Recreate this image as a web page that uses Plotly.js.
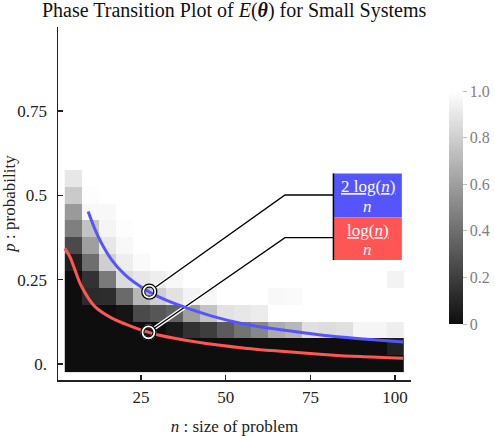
<!DOCTYPE html>
<html>
<head>
<meta charset="utf-8">
<script src="https://cdn.plot.ly/plotly-3.0.1.min.js"></script>
<style>
  html, body { margin: 0; padding: 0; background: #fff; }
  #chart { width: 495px; height: 436px; }
</style>
</head>
<body>
<div id="chart"></div>
<script>
// problem sizes (columns) and probabilities (rows) of the heatmap
const sizes = [5, 10, 15, 20, 25, 30, 35, 40, 45, 50, 55, 60, 65, 70, 75, 80, 85, 90, 95, 100];
const probs = [0, 0.05, 0.1, 0.15, 0.2, 0.25, 0.3, 0.35, 0.4, 0.45, 0.5, 0.55, 0.6, 0.65, 0.7, 0.75, 0.8, 0.85, 0.9, 0.95];

// E(theta), one row per probability (bottom row first)
const rowP000 = [0, 0, 0, 0, 0, 0, 0, 0, 0, 0, 0, 0, 0, 0, 0, 0, 0, 0, 0, 0];
const rowP005 = [0, 0, 0, 0, 0, 0, 0, 0, 0, 0, 0, 0, 0, 0, 0, 0, 0, 0, 0, 0.08];
const rowP010 = [0, 0, 0, 0, 0, 0, 0.05, 0.15, 0.2, 0.32, 0.42, 0.5, 0.65, 0.7, 0.87, 0.86, 0.87, 0.96, 0.96, 0.93];
const rowP015 = [0, 0, 0, 0.03, 0.25, 0.3, 0.35, 0.6, 0.75, 0.88, 0.9, 0.92, 1, 1, 1, 1, 1, 1, 1, 1];
const rowP020 = [0, 0.12, 0.13, 0.38, 0.7, 0.8, 0.88, 0.95, 0.97, 1, 1, 1, 0.97, 0.98, 1, 1, 1, 1, 1, 1];
const rowP025 = [0, 0.15, 0.45, 0.85, 0.9, 0.93, 0.97, 1, 1, 1, 1, 1, 1, 1, 1, 1, 1, 1, 1, 0.95];
const rowP030 = [0.07, 0.4, 0.8, 0.93, 0.98, 1, 1, 1, 1, 1, 1, 1, 1, 1, 1, 1, 1, 1, 1, 1];
const rowP035 = [0.25, 0.6, 0.9, 0.97, 1, 1, 1, 1, 1, 1, 1, 1, 1, 1, 1, 1, 1, 1, 1, 1];
const rowP040 = [0.47, 0.75, 0.96, 0.99, 1, 1, 1, 1, 1, 1, 1, 1, 1, 1, 1, 1, 1, 1, 1, 1];
const rowP045 = [0.58, 0.97, 0.97, 1, 1, 1, 1, 1, 1, 1, 1, 1, 1, 1, 1, 1, 1, 1, 1, 1];
const rowP050 = [0.78, 0.99, 1, 1, 1, 1, 1, 1, 1, 1, 1, 1, 1, 1, 1, 1, 1, 1, 1, 1];
const rowP055 = [0.9, 1, 1, 1, 1, 1, 1, 1, 1, 1, 1, 1, 1, 1, 1, 1, 1, 1, 1, 1];
const rowWhite = [1, 1, 1, 1, 1, 1, 1, 1, 1, 1, 1, 1, 1, 1, 1, 1, 1, 1, 1, 1];

// the two threshold curves
const blueN = [9.4, 12.4, 16.4, 20.3, 25.7, 30.1, 36.0, 45.9, 55.7, 63.1, 71.9, 80.8, 89.7, 102.4];
const blueP = [0.452, 0.377, 0.308, 0.264, 0.224, 0.200, 0.175, 0.142, 0.118, 0.106, 0.094, 0.083, 0.075, 0.065];
const redN = [2.5, 4.0, 5.5, 7.5, 11.4, 16.4, 22.3, 27.2, 30.1, 40.9, 55.7, 67.5, 80.8, 89.7, 102.4];
const redP = [0.343, 0.318, 0.279, 0.229, 0.170, 0.136, 0.111, 0.094, 0.086, 0.066, 0.047, 0.037, 0.027, 0.022, 0.017];

// highlighted points and their labels
const markN = [27.45, 27.2];
const markP = [0.2144, 0.094];
const markLabels = ["2 log(<i>n</i>)", "log(<i>n</i>)"];

const BLUE = "#5555ff";
const RED = "#ff5555";
const FONT = "Liberation Serif, DejaVu Serif, serif";

const xRange = [0.5, 104.7];
const yRange = [-0.0474, 0.999];
const margin = { l: 58, r: 84, t: 27, b: 56, autoexpand: false };
const plotW = 495 - margin.l - margin.r;
const plotH = 436 - margin.t - margin.b;
const pxN = plotW / (xRange[1] - xRange[0]);
const pxP = plotH / (yRange[1] - yRange[0]);

const z = [rowP000, rowP005, rowP010, rowP015, rowP020, rowP025, rowP030, rowP035,
  rowP040, rowP045, rowP050, rowP055, rowWhite, rowWhite, rowWhite, rowWhite,
  rowWhite, rowWhite, rowWhite, rowWhite];

// callout geometry: elbow and box edge (data units)
const elbowN = 67.5;
const elbowP = [0.501, 0.3745];
const boxLeft = 81.8, boxRight = 102.0;
const boxTop = [0.565, 0.435], boxBottom = [0.435, 0.308];

const calloutTraces = [];
markN.forEach((n, i) => {
  // start the leader line on the rim of the circle
  const dx = (elbowN - n) * pxN, dy = (elbowP[i] - markP[i]) * pxP;
  const len = Math.hypot(dx, dy);
  const r = 7.5;
  const sx = n + (dx / len) * r / pxN;
  const sy = markP[i] + (dy / len) * r / pxP;
  const xs = [sx, elbowN, boxLeft];
  const ys = [sy, elbowP[i], elbowP[i]];
  calloutTraces.push({ x: xs, y: ys, mode: "lines", line: { color: "#fff", width: 4 }, hoverinfo: "skip" });
  calloutTraces.push({ x: xs, y: ys, mode: "lines", line: { color: "#000", width: 1.3 }, hoverinfo: "skip" });
});

// open circle markers: for open symbols the stroke takes marker.color
function ring(size, color, width) {
  return { x: markN, y: markP, mode: "markers", hoverinfo: "skip",
    marker: { symbol: "circle-open", size: size, color: color, line: { width: width } } };
}

const traces = [
  {
    type: "heatmap", x: sizes, y: probs, z: z, zmin: 0, zmax: 1,
    colorscale: [[0, "#0e0e0e"], [1, "#ffffff"]],
    hoverinfo: "skip",
    colorbar: {
      x: 1.108, xanchor: "left", xpad: 0,
      y: 0.1586, yanchor: "bottom", ypad: 0,
      len: 0.66, thickness: 14, outlinewidth: 0,
      tickvals: [0, 0.2, 0.4, 0.6, 0.8, 1],
      ticktext: ["0", "0.2", "0.4", "0.6", "0.8", "1.0"],
      ticks: "outside", ticklen: 4, tickcolor: "#bbb", tickwidth: 1,
      tickfont: { family: FONT, size: 16, color: "#808080" }
    }
  },
  ...calloutTraces,
  { x: blueN, y: blueP, mode: "lines", line: { color: BLUE, width: 3, shape: "spline" }, hoverinfo: "skip" },
  { x: redN, y: redP, mode: "lines", line: { color: RED, width: 3, shape: "spline" }, hoverinfo: "skip" },
  ring(12, "#fff", 4),
  ring(15, "#000", 1.3),
  ring(9, "#000", 1.2)
];

const shapes = [
  { type: "rect", xref: "x", yref: "y", x0: boxLeft, x1: boxRight, y0: boxBottom[0], y1: boxTop[0], fillcolor: BLUE, line: { width: 0 } },
  { type: "rect", xref: "x", yref: "y", x0: boxLeft, x1: boxRight, y0: boxBottom[1], y1: boxTop[1], fillcolor: RED, line: { width: 0 } },
  { type: "line", xref: "x", yref: "y", x0: boxLeft, x1: boxLeft, y0: boxBottom[1], y1: boxTop[0], line: { color: "#000", width: 1.5 } }
];

const annotations = [];
markLabels.forEach((lab, i) => {
  const mid = (boxLeft + boxRight) / 2;
  const top = boxTop[i], h = top - boxBottom[i];
  annotations.push({ x: mid, y: top - h * 0.3, xref: "x", yref: "y", showarrow: false,
    text: "<u>" + lab + "</u>", font: { family: FONT, size: 17, color: "#fff" } });
  annotations.push({ x: mid, y: top - h * 0.76, xref: "x", yref: "y", showarrow: false,
    text: "<i>n</i>", font: { family: FONT, size: 17, color: "#fff" } });
});

const axisCommon = {
  showgrid: false, zeroline: false, showline: true, linecolor: "#222", linewidth: 1.5,
  ticks: "inside", ticklen: 5, tickwidth: 1.5, tickcolor: "#222",
  tickfont: { family: FONT, size: 17, color: "#222" }
};

const layout = {
  width: 495, height: 436,
  margin: margin,
  paper_bgcolor: "#fff", plot_bgcolor: "#fff",
  showlegend: false,
  title: {
    text: "Phase Transition Plot of <i>E</i>(<b><i>θ</i></b>) for Small Systems",
    font: { family: FONT, size: 20, color: "#111" },
    x: 0.473, xanchor: "center", y: 0.977, yanchor: "middle"
  },
  xaxis: Object.assign({}, axisCommon, {
    range: xRange, tickvals: [25, 50, 75, 100], ticklabelstandoff: 1,
    title: { text: "<i>n</i> : size of problem", font: { family: FONT, size: 17, color: "#222" }, standoff: 14 }
  }),
  yaxis: Object.assign({}, axisCommon, {
    range: yRange, tickvals: [0, 0.25, 0.5, 0.75], ticktext: ["0.", "0.25", "0.5", "0.75"], ticklabelstandoff: 6,
    title: { text: "<i>p</i> : probability", font: { family: FONT, size: 17, color: "#222" }, standoff: 8 }
  }),
  shapes: shapes,
  annotations: annotations
};

Plotly.newPlot("chart", traces, layout, { displayModeBar: false, staticPlot: true });
</script>
</body>
</html>
